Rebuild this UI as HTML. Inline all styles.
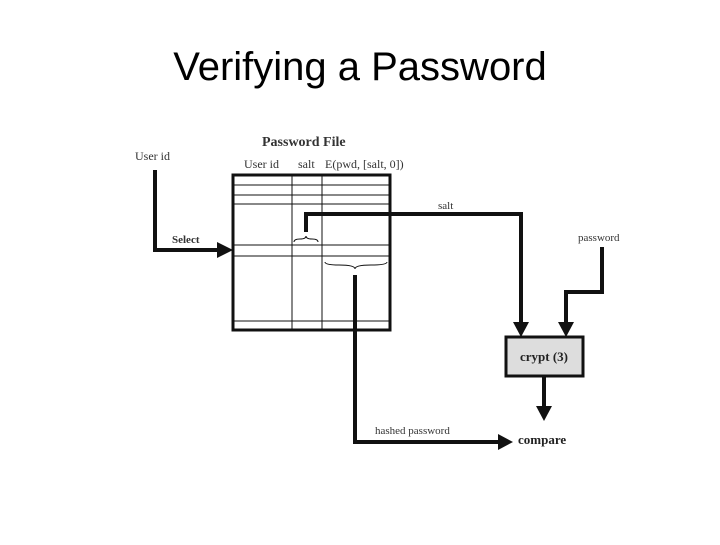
<!DOCTYPE html>
<html><head><style>
body{margin:0;width:720px;height:540px;background:#fff;overflow:hidden}
</style></head><body>
<svg width="720" height="540" xmlns="http://www.w3.org/2000/svg">
<text x="360" y="80" text-anchor="middle" font-family="Liberation Sans, sans-serif" font-size="40">Verifying a Password</text>
<g font-family="Liberation Serif, serif" fill="#333">
<text x="262" y="146" font-size="14" font-weight="bold">Password File</text>
<text x="135" y="160" font-size="12">User id</text>
<text x="244" y="168" font-size="12">User id</text>
<text x="298" y="168" font-size="12">salt</text>
<text x="325" y="168" font-size="12">E(pwd, [salt, 0])</text>
<text x="172" y="243" font-size="11" font-weight="bold">Select</text>
<text x="438" y="209" font-size="11">salt</text>
<text x="578" y="241" font-size="11">password</text>
<text x="375" y="434" font-size="11">hashed password</text>
<text x="518" y="444" font-size="13" font-weight="bold" fill="#222">compare</text>
</g>
<g stroke="#111" fill="none">
<rect x="233" y="175" width="157" height="155" stroke-width="3"/>
<g stroke-width="1">
<line x1="233" y1="185" x2="390" y2="185"/>
<line x1="233" y1="195" x2="390" y2="195"/>
<line x1="233" y1="204" x2="390" y2="204"/>
<line x1="233" y1="245" x2="390" y2="245"/>
<line x1="233" y1="256" x2="390" y2="256"/>
<line x1="233" y1="321" x2="390" y2="321"/>
<line x1="292" y1="175" x2="292" y2="330"/>
<line x1="322" y1="175" x2="322" y2="330"/>
<path d="M294 242 q0 -3 6 -3 q6 0 6 -3 q0 3 6 3 q6 0 6 3"/>
<path d="M325 262 q0 3 14 3 q16 0 16 4 q0 -4 16 -4 q16 0 16 -3"/>
</g>
<g stroke-width="4">
<polyline points="155,170 155,250 220,250"/>
<polyline points="306,232 306,214 521,214 521,325"/>
<polyline points="602,247 602,292 566,292 566,325"/>
<polyline points="544,376 544,408"/>
<polyline points="355,275 355,442 500,442"/>
</g>
<rect x="506" y="337" width="77" height="39" fill="#ddd" stroke-width="3"/>
</g>
<g fill="#111">
<polygon points="217,242 233,250 217,258"/>
<polygon points="513,322 529,322 521,337"/>
<polygon points="558,322 574,322 566,337"/>
<polygon points="536,406 552,406 544,421"/>
<polygon points="498,434 513,442 498,450"/>
</g>
<text x="544" y="361" text-anchor="middle" font-family="Liberation Serif, serif" font-size="13" font-weight="bold" fill="#222">crypt (3)</text>
</svg>
</body></html>
